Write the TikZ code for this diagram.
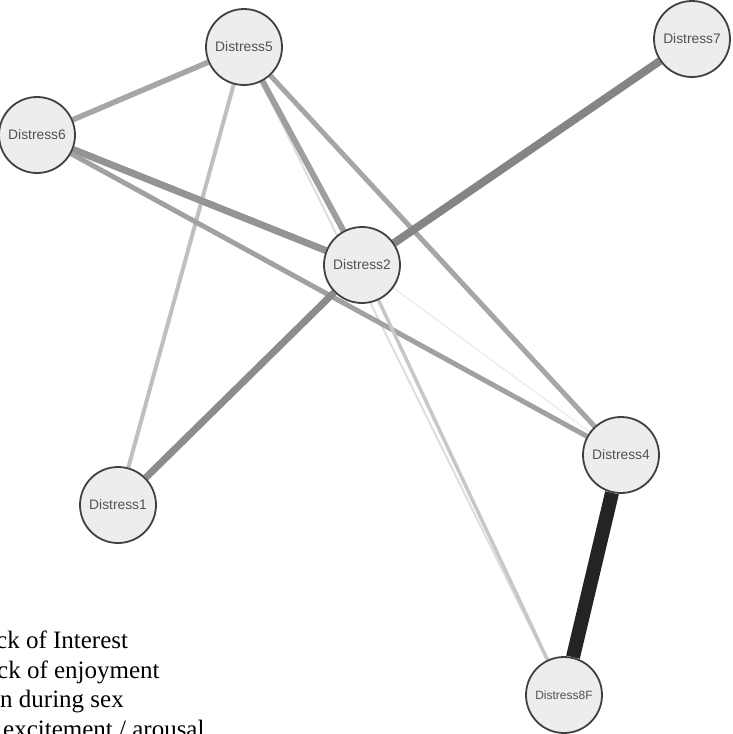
\documentclass[tikz,border=0pt]{standalone}
\usepackage{fontspec}
\setmainfont{Liberation Serif}
\newfontfamily\nodefont{Liberation Sans}
\usetikzlibrary{backgrounds}
\tikzset{w/.style={line width=#1}}

\begin{document}
\begin{tikzpicture}[x=1pt, y=-1pt,
	var/.style={circle, draw=black!75, line width=1.8pt, fill=black!7, minimum size=76pt, inner sep=0pt, text=black!68, font=\nodefont\fontsize{13.8}{16}\selectfont},
	legend/.style={anchor=base west, inner sep=0pt, font=\fontsize{25}{30}\selectfont}]
	\useasboundingbox (0,0) rectangle (733,734);

		\node[var] (d5) at (244,47) {Distress5};
		\node[var] (d7) at (692,39) {Distress7};
		\node[var] (d6) at (37,135) {Distress6};
		\node[var] (d2) at (362,265) {Distress2};
		\node[var] (d4) at (621,455) {Distress4};
		\node[var] (d1) at (118,505) {Distress1};
		\node[var, font=\nodefont\fontsize{12}{14}\selectfont] (d8) at (564,695) {Distress8F};

		\node[legend] (l1) at (-4,648) {ck of Interest};
		\node[legend] (l2) at (-3,678) {ck of enjoyment};
		\node[legend] (l3) at (0,707) {n during sex};
		\node[legend] (l4) at (3,737) {excitement / arousal};

		\begin{scope}[on background layer]
		\path
		(d5) edge[w=2, black!13] (d8)
			 edge[w=4, black!25] (d1)
			 edge[w=5.5, black!35] (d6)
			 edge[w=6, black!38] (d2)
			 edge[w=5, black!35] (d4)
		(d6) edge[w=7, black!42] (d2)
			 edge[w=5, black!37] (d4)
		(d2) edge[w=1.5, black!7] (d4)
			 edge[w=3.5, black!22] (d8)
			 edge[w=8, black!48] (d7)
			 edge[w=7, black!45] (d1)
		(d4) edge[w=14, black!86] (d8);
		\end{scope}

\end{tikzpicture}
\end{document}
